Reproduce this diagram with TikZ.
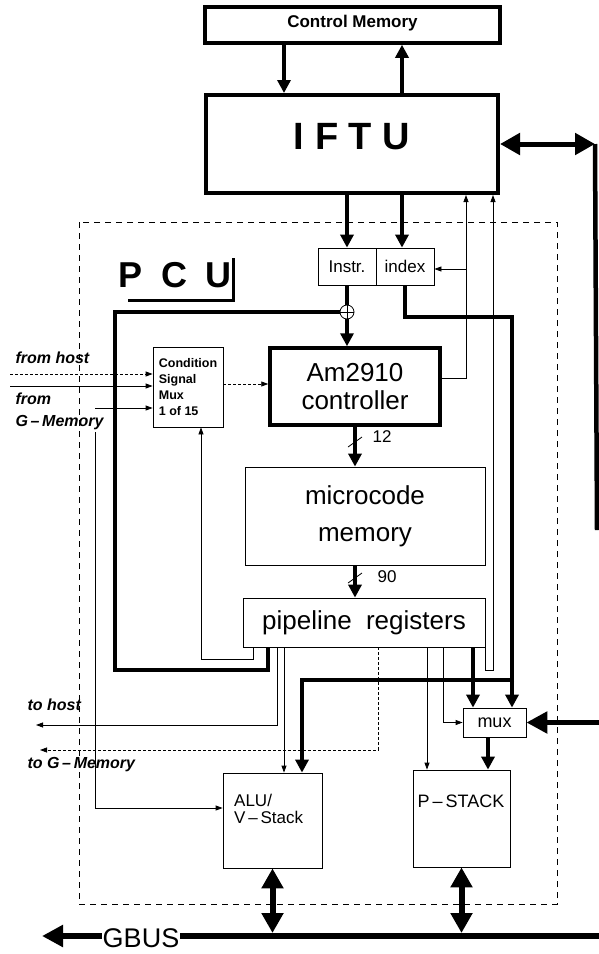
\documentclass[tikz,border=0pt]{standalone}
\usepackage{fontspec}
\setmainfont{Liberation Sans}
\usetikzlibrary{arrows.meta}

\begin{document}
\begin{tikzpicture}[x=1pt, y=-1pt,
  box/.style={draw, line width=0.8pt, inner sep=0pt},
  heavybox/.style={draw, line width=3.5pt, inner sep=0pt},
  heavy/.style={line width=4pt},
  bus/.style={line width=4pt, -{Triangle[width=13pt, length=13pt]}},
  fat/.style={line width=5.5pt, -{Triangle[width=21pt, length=21pt]}},
  dbus/.style={line width=6pt, {Triangle[width=21pt, length=20pt]}-{Triangle[width=21pt, length=20pt]}},
  sig/.style={line width=0.8pt, -{Triangle[width=5pt, length=7pt]}},
  txtbig/.style={font=\fontsize{26}{28}\selectfont},
  txtmid/.style={font=\fontsize{18}{18}\selectfont},
  txtsmall/.style={font=\fontsize{17}{17}\selectfont},
  txtio/.style={font=\fontsize{16}{22}\selectfont\bfseries\itshape},
]

\useasboundingbox (0,0) rectangle (598,954);

% ── Control Memory / IFTU ─────────────────────────────────────
\node[heavybox, minimum width=295pt, minimum height=36pt, text depth=8pt,
      font=\fontsize{17}{17}\selectfont\bfseries] (cm) at (352.5,25) {Control Memory};
\node[heavybox, line width=4pt, minimum width=292pt, minimum height=98pt, text depth=16pt,
      font=\fontsize{38}{38}\selectfont\bfseries] (iftu) at (352,144) {I F T U};

\draw[bus] (cm.south -| 284,0) -- (iftu.north -| 284,0);
\draw[bus] (iftu.north -| 402,0) -- (cm.south -| 402,0);

% bus on the right edge
\coordinate (rtop) at (595,144);
\coordinate (rbot) at (597,530);
\draw[line width=4.5pt] (rtop) -- (rbot);
\draw[dbus, line width=5pt] (iftu.east) -- (rtop);

% ── PCU ───────────────────────────────────────────────────────
\draw[line width=0.8pt, dash pattern=on 6pt off 5pt] (79,222) rectangle (557,904);
\node[font=\fontsize{36}{36}\selectfont\bfseries] (pcu) at (175,275) {P\hspace{.5em}C\hspace{.5em}U};
\draw[line width=3pt] (128,300) -- (233,300) -- (233,258);

\node[box, minimum width=58pt, minimum height=37pt, txtsmall] (instr) at (347,266.5) {Instr.};
\node[box, minimum width=58pt, minimum height=37pt, txtsmall] (index) at (405,266.5) {index};
\node[circle, draw, line width=0.8pt, minimum size=14pt, inner sep=0pt] (jn) at (347,312) {};
\draw[line width=0.8pt] (jn.west) -- (jn.east) (jn.north) -- (jn.south);

\node[heavybox, minimum width=170pt, minimum height=77pt, txtbig, align=center]
    (am) at (355,386.5) {Am2910\\controller};
\node[box, minimum width=70pt, minimum height=80pt, align=left,
      font=\fontsize{12.5}{16}\selectfont\bfseries] (cond) at (188,387)
    {Condition\\Signal\\Mux\\1 of 15};
\node[box, minimum width=240pt, minimum height=98pt, align=center,
      font=\fontsize{26}{37}\selectfont] (mcm) at (365,516) {microcode\\memory};
\node[box, minimum width=242pt, minimum height=49pt, txtbig]
    (pipe) at (364,622.5) {pipeline\hspace{.55em}registers};
\node[box, minimum width=63pt, minimum height=29pt, txtmid] (mux) at (494.5,722.5) {mux};

\node[box, minimum width=99pt, minimum height=95pt] (alu) at (272.5,820.5) {};
\node[txtsmall, anchor=north west, align=left, inner sep=0pt] (alutxt) at (234,794)
    {ALU/\\V\,--\,Stack};
\node[box, minimum width=97pt, minimum height=97pt] (pstack) at (461.5,818.5) {};
\node[txtmid, inner sep=0pt] (pstacktxt) at (461,801) {P\,--\,STACK};

% IFTU -> Instr / index
\draw[bus] (iftu.south -| instr) -- (instr.north);
\draw[bus] (iftu.south -| 402,0) -- (index.north -| 402,0);

% Instr -> Am2910 through the junction
\draw[heavy] (instr.south) -- (jn.north);
\draw[bus] (jn.south) -- (am.north -| jn.south);
\draw[heavy] (pipe.south -| 268,0) |- (115,670) |- (jn.west);

% Am2910 -> microcode -> pipeline
\draw[bus] (am.south) -- (mcm.north -| am.south);
\draw[line width=0.8pt] (348,447) -- (362,437);
\node[txtsmall] (w12) at (382,437) {12};
\draw[bus] (mcm.south -| am.south) -- (pipe.north -| am.south);
\draw[line width=0.8pt] (348,583) -- (362,573);
\node[txtsmall] (w90) at (387,577) {90};

% Am2910 -> IFTU, index
\coordinate (fb) at (466,269);
\draw[sig] (am.east |- 0,378) -| (iftu.south -| 466,0);
\draw[sig] (fb) -- (index.east |- fb);
\draw[sig] (pipe.south east) |- (493,670) -- (iftu.south -| 493,0);

% index -> mux, ALU
\coordinate (ixsplit) at (514,680);
\draw[bus] (index.south) |- (512,317) -- (mux.north -| 512,0);
\draw[bus] (ixsplit) -| (alu.north -| 302,0);

% ── Condition inputs ──────────────────────────────────────────
\node[txtio, anchor=west] (fromhost) at (12,358) {from host};
\node[txtio, anchor=west, align=left] (fromgm) at (12,411) {from\\G\,--\,Memory};
\coordinate (hin1) at (10,374);
\coordinate (hin2) at (10,386);
\coordinate (gin) at (95,408);
\coordinate (gdown) at (95,432);
\draw[sig, densely dashed] (hin1) -- (cond.west |- hin1);
\draw[sig] (hin2) -- (cond.west |- hin2);
\draw[sig] (gin) -- (cond.west |- gin);
\draw[sig] (gdown) |- (alu.west |- 0,808);
\draw[sig, densely dashed] (cond.east |- 0,384) -- (am.west |- 0,384);
\draw[sig] (pipe.south -| 253,0) |- (201,659) -- (cond.south -| 201,0);

% ── Outputs of the pipeline ───────────────────────────────────
\node[txtio, anchor=west] (tohost) at (24,705) {to host};
\node[txtio, anchor=west] (togm) at (24,765) {to G\,--\,Memory};
\coordinate (hout) at (36,725);
\coordinate (gout) at (40,750);
\draw[sig] (pipe.south -| 277,0) |- (hout);
\draw[sig, densely dashed] (pipe.south -| 378,0) |- (gout);
\draw[sig] (pipe.south -| 284,0) -- (alu.north -| 284,0);
\draw[sig] (pipe.south -| 427,0) -- (pstack.north -| 427,0);
\draw[sig] (pipe.south -| 443,0) |- (mux.west);
\draw[bus] (pipe.south -| 473,0) -- (mux.north -| 473,0);
\draw[bus] (mux.south -| 488,0) -- (pstack.north -| 488,0);

\coordinate (rmux) at (604,722.5);
\draw[fat] (rmux) -- (mux.east);

% ── GBUS ──────────────────────────────────────────────────────
\node[font=\fontsize{27}{27}\selectfont, inner sep=1pt] (gbus) at (141,938) {GBUS};
\coordinate (rgbus) at (604,936);
\coordinate (lgbus) at (42,936);
\draw[line width=5.5pt] (gbus.east |- rgbus) -- (rgbus);
\draw[fat] (gbus.west |- lgbus) -- (lgbus);
\draw[dbus] (alu.south) -- (alu.south |- 0,933);
\draw[dbus] (pstack.south) -- (pstack.south |- 0,933);

\end{tikzpicture}
\end{document}
